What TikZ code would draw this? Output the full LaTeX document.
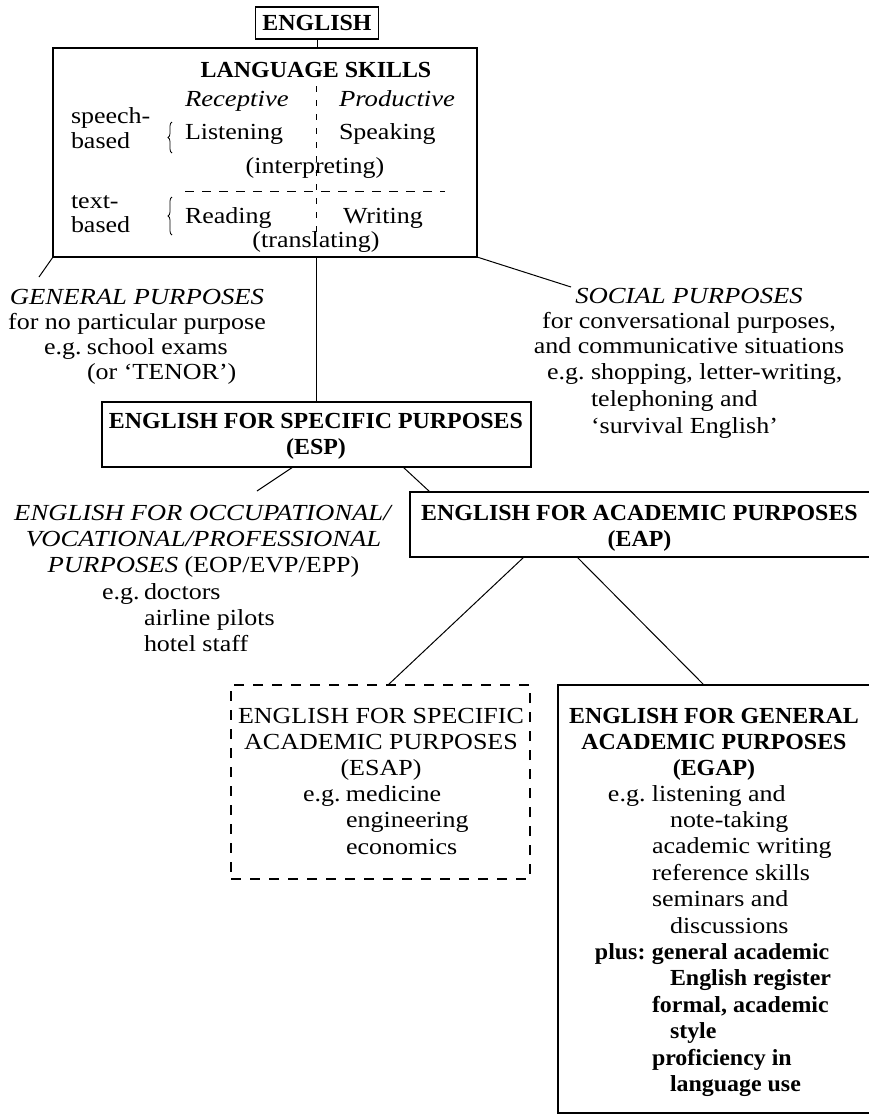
\documentclass[tikz,border=0pt]{standalone}
\usepackage{fontspec}
\setmainfont{Liberation Serif}[UprightFeatures={FakeStretch=1.13},BoldFeatures={FakeStretch=1.04},ItalicFeatures={FakeStretch=1.16}]
\usetikzlibrary{decorations.pathreplacing}
\newcommand\fs{\fontsize{23pt}{26.4pt}\selectfont}
\newcommand\ctab[2][1]{\renewcommand\arraystretch{#1}\begin{tabular}[t]{@{}c@{}}#2\end{tabular}}
\newcommand\ltab[2][1]{\renewcommand\arraystretch{#1}\begin{tabular}[t]{@{}l@{}}#2\end{tabular}}
\tikzset{
  box/.style={draw, line width=1.3pt, inner sep=0pt, outer sep=0pt},
  dbox/.style={draw, line width=1.2pt, dash pattern=on 10pt off 9pt, inner sep=0pt, outer sep=0pt},
  txt/.style={inner sep=0pt, outer sep=0pt, font=\fs},
  conn/.style={line width=1pt},
  dashv/.style={line width=1pt, dash pattern=on 6pt off 8pt},
  dashh/.style={line width=1pt, dash pattern=on 9pt off 8pt},
  curly/.style={decorate, decoration={brace, amplitude=4pt}, line width=0.8pt},
}
\begin{document}
\begin{tikzpicture}[x=1pt,y=-1pt]
\useasboundingbox (0,0) rectangle (868,1119);

% ENGLISH
\node[box, minimum width=123pt, minimum height=32pt, font=\fs\bfseries] (english) at (317,23) {ENGLISH};

% LANGUAGE SKILLS box
\node[box, minimum width=424pt, minimum height=209pt] (ls) at (265,152.5) {};
\node[txt, anchor=base] (lstitle) at (316,77) {\textbf{LANGUAGE SKILLS}};
\node[txt, anchor=base west] (recep) at (185,106) {\textit{Receptive}};
\node[txt, anchor=base west] (prod) at (339,106) {\textit{Productive}};
\node[txt, anchor=base west] (listen) at (185,139) {Listening};
\node[txt, anchor=base west] (speak) at (339,139) {Speaking};
\node[txt, anchor=base] (interp) at (315,173) {(interpreting)};
\node[txt, anchor=base west] (read) at (185,223) {Reading};
\node[txt, anchor=base west] (write) at (343,223) {Writing};
\node[txt, anchor=base] (transl) at (316,247) {(translating)};
\node[txt, anchor=base west] (speechb) at (71,123) {\ltab[0.95]{speech-\\based}};
\node[txt, anchor=base west] (textb) at (71,208) {\ltab[0.93]{text-\\based}};
\draw[curly] (172,153) -- (172,122);
\draw[curly] (172,235) -- (172,197);
\draw[dashv] (316,86) -- (316,232);
\draw[dashh] (185,191) -- (445,191);

% connectors from ENGLISH and LS
\draw[conn] (english.south) -- (english.south |- ls.north);

% GENERAL PURPOSES
\node[txt, anchor=base] (gp) at (137,304) {\ctab[0.96]{\textit{GENERAL PURPOSES}\\for no particular purpose}};
\node[txt, anchor=base west] (gpeg) at (44,354) {\ltab[0.98]{\makebox[43pt][l]{e.g.}school exams\\\hspace*{43pt}(or `TENOR')}};
\coordinate (gpend) at (39,277);
\draw[conn] (ls.south west) -- (gpend);

% SOCIAL PURPOSES
\node[txt, anchor=base] (sp) at (689,303) {\ctab[0.95]{\textit{SOCIAL PURPOSES}\\for conversational purposes,\\and communicative situations}};
\node[txt, anchor=base west] (speg) at (547,379) {\ltab[1.03]{\makebox[44pt][l]{e.g.}shopping, letter-writing,\\\hspace*{44pt}telephoning and\\\hspace*{44pt}`survival English'}};
\coordinate (spend) at (571,287);
\draw[conn] (ls.south east) -- (spend);

% ESP
\node[box, minimum width=429pt, minimum height=65pt] (esp) at (316.5,434.5) {};
\node[txt, anchor=base] (esptxt) at (316,428) {\ctab{\textbf{ENGLISH FOR SPECIFIC PURPOSES}\\\textbf{(ESP)}}};
\draw[conn] (ls.south -| esp.north) -- (esp.north);

% OEP
\node[txt, anchor=base] (oep) at (203.5,520) {\ctab{\textit{ENGLISH FOR OCCUPATIONAL/}\\\textit{VOCATIONAL/PROFESSIONAL}\\\textit{PURPOSES} (EOP/EVP/EPP)}};
\node[txt, anchor=base west] (oepeg) at (102,599) {\ltab{\makebox[42pt][l]{e.g.}doctors\\\hspace*{42pt}airline pilots\\\hspace*{42pt}hotel staff}};
\coordinate (oepend) at (257,491);
\draw[conn] ([xshift=-23.5pt]esp.south) -- (oepend);

% EAP (runs off the right edge)
\node[box, minimum width=470pt, minimum height=65pt] (eap) at (645,524.5) {};
\node[txt, anchor=base] (eaptxt) at (639.5,520) {\ctab{\textbf{ENGLISH FOR ACADEMIC PURPOSES}\\\textbf{(EAP)}}};
\draw[conn] ([xshift=86.5pt]esp.south) -- ([xshift=-215pt]eap.north);

% ESAP
\node[dbox, minimum width=299pt, minimum height=194pt] (esap) at (380.5,782) {};
\node[txt, anchor=base] (esaptxt) at (381,723) {\ctab{ENGLISH FOR SPECIFIC\\ACADEMIC PURPOSES\\(ESAP)}};
\node[txt, anchor=base west] (esapeg) at (303,801.5) {\ltab{\makebox[43pt][l]{e.g.}medicine\\\hspace*{43pt}engineering\\\hspace*{43pt}economics}};
\draw[conn] ([xshift=-121pt]eap.south) -- ([xshift=7.5pt]esap.north);

% EGAP (runs off the right edge)
\node[box, minimum width=322pt, minimum height=428pt] (egap) at (719,899) {};
\node[txt, anchor=base] (egaptxt) at (714,723) {\ctab{\textbf{ENGLISH FOR GENERAL}\\\textbf{ACADEMIC PURPOSES}\\\textbf{(EGAP)}}};
\node[txt, anchor=base west] (egapeg) at (596,801) {\ltab{%
\makebox[56pt][r]{e.g.\ }listening and\\
\hspace*{74pt}note-taking\\
\hspace*{56pt}academic writing\\
\hspace*{56pt}reference skills\\
\hspace*{56pt}seminars and\\
\hspace*{74pt}discussions\\
\makebox[56pt][r]{\textbf{plus:}\ }\textbf{general academic}\\
\hspace*{74pt}\textbf{English register}\\
\hspace*{56pt}\textbf{formal, academic}\\
\hspace*{74pt}\textbf{style}\\
\hspace*{56pt}\textbf{proficiency in}\\
\hspace*{74pt}\textbf{language use}}};
\draw[conn] ([xshift=-68pt]eap.south) -- ([xshift=-15pt]egap.north);
\end{tikzpicture}
\end{document}
